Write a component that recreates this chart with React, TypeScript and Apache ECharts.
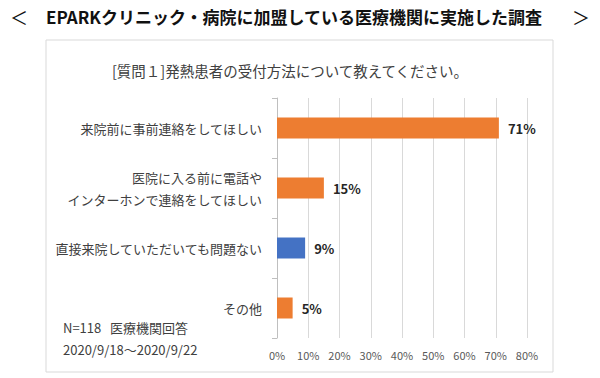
import React, { useEffect, useRef } from "react";
import * as echarts from "echarts";

const categories = [
  "来院前に事前連絡をしてほしい",
  "医院に入る前に電話や\nインターホンで連絡をしてほしい",
  "直接来院していただいても問題ない",
  "その他",
];
const values = [71, 15, 9, 5];
const highlightIndex = 2;
const tickValues = [0, 10, 20, 30, 40, 50, 60, 70, 80];

const mainTitle = "EPARKクリニック・病院に加盟している医療機関に実施した調査";
const subTitle = "[質問１]発熱患者の受付方法について教えてください。";
const noteLines = ["N=118   医療機関回答", "2020/9/18～2020/9/22"];

const FONT = "'Noto Sans CJK JP', 'Noto Sans', sans-serif";

export default function App() {
  const ref = useRef<HTMLDivElement>(null);
  useEffect(() => {
    if (!ref.current) return;
    const chart = echarts.init(ref.current, null, { renderer: "svg" });
    chart.setOption({
      animation: false,
      backgroundColor: "#ffffff",
      textStyle: { fontFamily: FONT },
      grid: { left: 277, right: 73, top: 98, bottom: 40, containLabel: false },
      xAxis: {
        type: "value",
        min: tickValues[0],
        max: tickValues[tickValues.length - 1],
        interval: 10,
        axisLine: { show: false },
        axisTick: { show: false },
        splitLine: { show: true, lineStyle: { color: "#d9d9d9", width: 1 } },
        axisLabel: {
          formatter: "{value}%",
          color: "#595959",
          fontSize: 11,
          margin: 11,
          fontFamily: FONT,
        },
      },
      yAxis: {
        type: "category",
        data: categories,
        inverse: true,
        axisLine: { show: true, lineStyle: { color: "#bfbfbf", width: 1 } },
        axisTick: { show: true, length: 5, lineStyle: { color: "#bfbfbf" } },
        axisLabel: {
          color: "#404040",
          fontSize: 13,
          lineHeight: 22,
          margin: 15,
          fontFamily: FONT,
        },
      },
      series: [
        {
          type: "bar",
          data: values.map((v, i) => ({
            value: v,
            itemStyle: { color: i === highlightIndex ? "#4472C4" : "#ED7D31" },
          })),
          barWidth: 21,
          label: {
            show: true,
            position: "right",
            distance: 9,
            formatter: "{c}%",
            color: "#262626",
            fontSize: 13,
            fontWeight: "bold",
            fontFamily: FONT,
          },
        },
      ],
      graphic: [
        {
          type: "rect",
          shape: { x: 46, y: 40, width: 507, height: 332 },
          style: { fill: "none", stroke: "#d9d9d9", lineWidth: 1 },
          z: -1,
        },
        {
          type: "text",
          x: 19,
          y: 17,
          style: {
            text: "＜",
            fill: "#111111",
            font: `18px ${FONT}`,
            textAlign: "center",
            textVerticalAlign: "middle",
          },
        },
        {
          type: "text",
          x: 581,
          y: 17,
          style: {
            text: "＞",
            fill: "#111111",
            font: `18px ${FONT}`,
            textAlign: "center",
            textVerticalAlign: "middle",
          },
        },
        {
          type: "text",
          x: 294,
          y: 16,
          style: {
            text: mainTitle,
            fill: "#111111",
            font: `bold 17px ${FONT}`,
            textAlign: "center",
            textVerticalAlign: "middle",
          },
        },
        {
          type: "text",
          x: 290,
          y: 70,
          style: {
            text: subTitle,
            fill: "#404040",
            font: `14.5px ${FONT}`,
            textAlign: "center",
            textVerticalAlign: "middle",
          },
        },
        {
          type: "text",
          x: 63,
          y: 327,
          style: {
            text: noteLines[0],
            fill: "#404040",
            font: `13px ${FONT}`,
            textAlign: "left",
            textVerticalAlign: "middle",
          },
        },
        {
          type: "text",
          x: 63,
          y: 349,
          style: {
            text: noteLines[1],
            fill: "#404040",
            font: `13px ${FONT}`,
            textAlign: "left",
            textVerticalAlign: "middle",
          },
        },
      ],
    });
    return () => chart.dispose();
  }, []);
  return (
    <div
      ref={ref}
      style={{ position: "fixed", left: 0, top: 0, width: 600, height: 378 }}
    />
  );
}
